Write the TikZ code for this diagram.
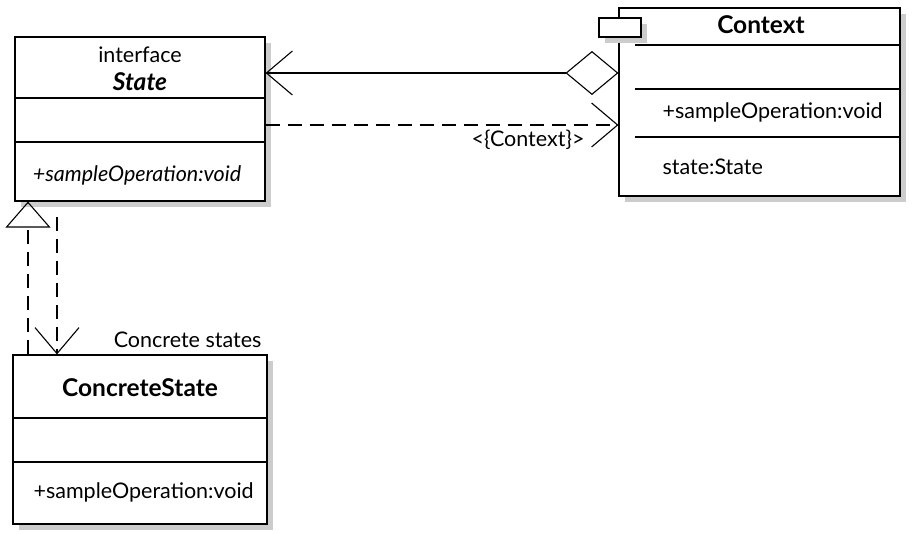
\documentclass[tikz,border=0pt]{standalone}
\usepackage{fontspec}
\setmainfont{Lato}
\usetikzlibrary{arrows.meta,shadows}
\begin{document}
\begin{tikzpicture}[x=1pt, y=-1pt, line width=1.1pt,
    txt/.style={inner sep=0pt, font=\fontsize{21.5}{24}\selectfont},
    classname/.style={inner sep=0pt, font=\fontsize{24.5}{27}\selectfont\bfseries},
    umlbox/.style={draw, fill=white, inner sep=0pt, drop shadow={shadow xshift=6pt, shadow yshift=-6pt, fill=black!20, opacity=1}},
    dashline/.style={dash pattern=on 14pt off 8pt},
    umlbarb/.tip={Straight Barb[length=26pt, width=44pt]}]
    \useasboundingbox (0,0) rectangle (914,534);
    \node[umlbox, minimum width=250, minimum height=164] (state) at (140,119) {};
    \node[umlbox, minimum width=281, minimum height=188] (context) at (759.5,102) {};
    \node[umlbox, minimum width=42, minimum height=19] (tab) at (620,27.5) {};
    \node[umlbox, minimum width=254, minimum height=169] (concrete) at (140,439.5) {};
    \draw (state.west |- 0,98) -- (state.east |- 0,98);
    \draw (state.west |- 0,142) -- (state.east |- 0,142);
    \draw (635,45) -- (context.east |- 0,45);
    \draw (635,89) -- (context.east |- 0,89);
    \draw (635,137) -- (context.east |- 0,137);
    \draw (concrete.west |- 0,418) -- (concrete.east |- 0,418);
    \draw (concrete.west |- 0,462) -- (concrete.east |- 0,462);
    \node[txt] (stateStereo) at (140,55) {interface};
    \node[classname] (stateName) at (140,82) {\itshape State};
    \node[txt] (stateOp) at (137,175) {\itshape +sampleOperation:void};
    \node[classname] (contextName) at (761,25) {Context};
    \node[txt, anchor=west] (contextOp) at (662,112) {+sampleOperation:void};
    \node[txt, anchor=west] (contextAttr) at (662,167) {state:State};
    \node[classname] (concreteName) at (140,388) {ConcreteState};
    \node[txt, anchor=west] (concreteOp) at (33,492) {+sampleOperation:void};
    \node[txt, anchor=east] (concreteLabel) at (262,340) {Concrete states};
    \node[txt, anchor=east] (depLabel) at (585,140) {<\{Context\}>};
    \coordinate (aggState) at (state.east |- 0,73);
    \coordinate (aggContext) at (context.west |- 0,73);
    \coordinate (depState) at (state.east |- 0,125);
    \coordinate (depContext) at (context.west |- 0,125);
    \coordinate (genTop) at (state.south -| 28,0);
    \coordinate (genBottom) at (concrete.north -| 28,0);
    \coordinate (useTop) at (57,217);
    \coordinate (useBottom) at (concrete.north -| 57,0);
    \draw[{umlbarb}-{Diamond[open, length=53pt, width=44pt]}] (aggState) -- (aggContext);
    \draw[dashline, -{umlbarb}] (depState) -- (depContext);
    \draw[dashline, -{umlbarb}] (useTop) -- (useBottom);
    \draw[dashline, -{Triangle[open, length=26pt, width=45pt]}] (genBottom) -- (genTop);
\end{tikzpicture}
\end{document}
